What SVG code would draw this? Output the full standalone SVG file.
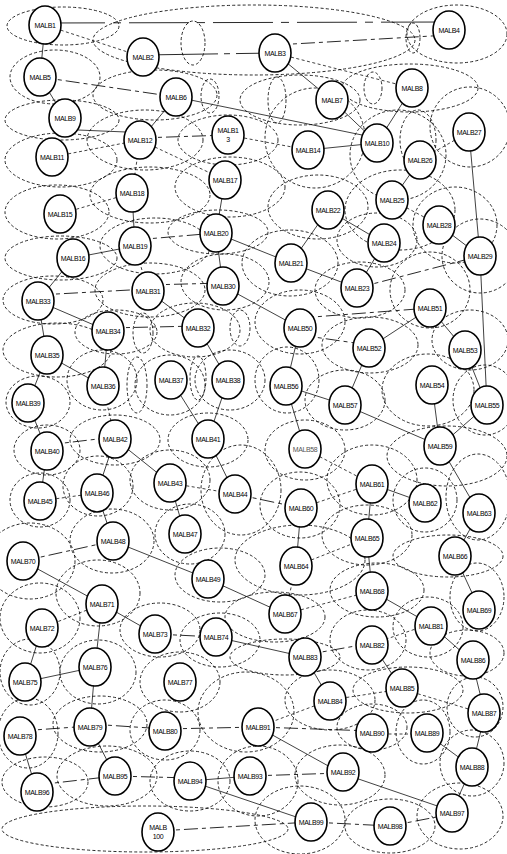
<svg xmlns="http://www.w3.org/2000/svg" width="507" height="854" viewBox="0 0 507 854">
<style>
.r{fill:none;stroke:#111;stroke-width:0.9;stroke-dasharray:3 2.2}
.c{stroke:#111;stroke-width:0.8;fill:none}
.d{stroke:#111;stroke-width:0.8;fill:none;stroke-dasharray:3 2.5}
.l{stroke:#111;stroke-width:0.9;fill:none;stroke-dasharray:14 4 4 4}
.n ellipse{fill:#fff;stroke:#000;stroke-width:1.6}
.n text{font-family:"Liberation Sans",Arial,sans-serif;font-size:7px;letter-spacing:-0.4px;text-anchor:middle;fill:#000}
</style>
<rect width="507" height="854" fill="#fff"/>
<g id="ranges">
<ellipse class="r" cx="63" cy="26" rx="56" ry="19"/>
<ellipse class="r" cx="457" cy="34" rx="50" ry="29"/>
<ellipse class="r" cx="413" cy="38" rx="7" ry="15"/>
<ellipse class="r" cx="193" cy="43" rx="12" ry="22"/>
<ellipse class="r" cx="254" cy="40" rx="161" ry="35"/>
<ellipse class="r" cx="55" cy="77" rx="45" ry="27"/>
<ellipse class="r" cx="155" cy="95" rx="62" ry="25"/>
<ellipse class="r" cx="210" cy="96" rx="9" ry="17"/>
<ellipse class="r" cx="277" cy="100" rx="9" ry="23"/>
<ellipse class="r" cx="300" cy="100" rx="60" ry="25"/>
<ellipse class="r" cx="410" cy="88" rx="68" ry="24"/>
<ellipse class="r" cx="373" cy="88" rx="9" ry="16"/>
<ellipse class="r" cx="62" cy="120" rx="57" ry="20"/>
<ellipse class="r" cx="61" cy="160" rx="56" ry="27"/>
<ellipse class="r" cx="145" cy="140" rx="58" ry="30"/>
<ellipse class="r" cx="228" cy="140" rx="50" ry="25"/>
<ellipse class="r" cx="315" cy="138" rx="50" ry="50"/>
<ellipse class="r" cx="398" cy="155" rx="48" ry="45"/>
<ellipse class="r" cx="470" cy="127" rx="40" ry="40"/>
<ellipse class="r" cx="418" cy="140" rx="18" ry="30"/>
<ellipse class="r" cx="57" cy="212" rx="52" ry="27"/>
<ellipse class="r" cx="150" cy="195" rx="60" ry="28"/>
<ellipse class="r" cx="230" cy="187" rx="55" ry="30"/>
<ellipse class="r" cx="318" cy="207" rx="50" ry="32"/>
<ellipse class="r" cx="400" cy="210" rx="55" ry="40"/>
<ellipse class="r" cx="455" cy="225" rx="42" ry="38"/>
<ellipse class="r" cx="155" cy="246" rx="55" ry="28"/>
<ellipse class="r" cx="61" cy="258" rx="56" ry="22"/>
<ellipse class="r" cx="218" cy="232" rx="50" ry="22"/>
<ellipse class="r" cx="377" cy="240" rx="40" ry="27"/>
<ellipse class="r" cx="290" cy="263" rx="48" ry="33"/>
<ellipse class="r" cx="480" cy="256" rx="38" ry="37"/>
<ellipse class="r" cx="53" cy="300" rx="50" ry="24"/>
<ellipse class="r" cx="150" cy="290" rx="55" ry="27"/>
<ellipse class="r" cx="225" cy="282" rx="44" ry="28"/>
<ellipse class="r" cx="360" cy="290" rx="45" ry="28"/>
<ellipse class="r" cx="430" cy="290" rx="40" ry="38"/>
<ellipse class="r" cx="116" cy="332" rx="41" ry="22"/>
<ellipse class="r" cx="143" cy="333" rx="10" ry="20"/>
<ellipse class="r" cx="195" cy="330" rx="45" ry="27"/>
<ellipse class="r" cx="240" cy="328" rx="10" ry="18"/>
<ellipse class="r" cx="300" cy="322" rx="45" ry="32"/>
<ellipse class="r" cx="370" cy="345" rx="48" ry="28"/>
<ellipse class="r" cx="470" cy="340" rx="38" ry="30"/>
<ellipse class="r" cx="57" cy="350" rx="54" ry="27"/>
<ellipse class="r" cx="102" cy="380" rx="35" ry="30"/>
<ellipse class="r" cx="137" cy="385" rx="10" ry="28"/>
<ellipse class="r" cx="38" cy="402" rx="32" ry="26"/>
<ellipse class="r" cx="170" cy="385" rx="35" ry="30"/>
<ellipse class="r" cx="198" cy="378" rx="8" ry="22"/>
<ellipse class="r" cx="230" cy="380" rx="35" ry="30"/>
<ellipse class="r" cx="287" cy="380" rx="32" ry="33"/>
<ellipse class="r" cx="345" cy="400" rx="40" ry="30"/>
<ellipse class="r" cx="428" cy="390" rx="46" ry="36"/>
<ellipse class="r" cx="485" cy="400" rx="32" ry="35"/>
<ellipse class="r" cx="47" cy="450" rx="33" ry="25"/>
<ellipse class="r" cx="115" cy="440" rx="45" ry="25"/>
<ellipse class="r" cx="208" cy="440" rx="40" ry="27"/>
<ellipse class="r" cx="305" cy="450" rx="40" ry="30"/>
<ellipse class="r" cx="447" cy="456" rx="60" ry="30"/>
<ellipse class="r" cx="40" cy="500" rx="30" ry="27"/>
<ellipse class="r" cx="98" cy="486" rx="35" ry="30"/>
<ellipse class="r" cx="170" cy="480" rx="40" ry="30"/>
<ellipse class="r" cx="241" cy="490" rx="40" ry="45"/>
<ellipse class="r" cx="300" cy="505" rx="40" ry="33"/>
<ellipse class="r" cx="372" cy="480" rx="45" ry="35"/>
<ellipse class="r" cx="425" cy="500" rx="32" ry="32"/>
<ellipse class="r" cx="478" cy="497" rx="32" ry="43"/>
<ellipse class="r" cx="112" cy="541" rx="42" ry="32"/>
<ellipse class="r" cx="30" cy="561" rx="45" ry="38"/>
<ellipse class="r" cx="190" cy="534" rx="35" ry="30"/>
<ellipse class="r" cx="300" cy="560" rx="65" ry="35"/>
<ellipse class="r" cx="367" cy="535" rx="45" ry="30"/>
<ellipse class="r" cx="448" cy="556" rx="55" ry="21"/>
<ellipse class="r" cx="220" cy="575" rx="45" ry="27"/>
<ellipse class="r" cx="377" cy="590" rx="47" ry="27"/>
<ellipse class="r" cx="477" cy="597" rx="27" ry="34"/>
<ellipse class="r" cx="98" cy="593" rx="42" ry="33"/>
<ellipse class="r" cx="40" cy="618" rx="40" ry="35"/>
<ellipse class="r" cx="275" cy="617" rx="50" ry="25"/>
<ellipse class="r" cx="160" cy="630" rx="40" ry="27"/>
<ellipse class="r" cx="220" cy="640" rx="40" ry="27"/>
<ellipse class="r" cx="428" cy="627" rx="35" ry="30"/>
<ellipse class="r" cx="368" cy="640" rx="38" ry="30"/>
<ellipse class="r" cx="285" cy="657" rx="55" ry="18"/>
<ellipse class="r" cx="467" cy="653" rx="37" ry="23"/>
<ellipse class="r" cx="30" cy="672" rx="30" ry="33"/>
<ellipse class="r" cx="98" cy="672" rx="38" ry="32"/>
<ellipse class="r" cx="180" cy="682" rx="40" ry="30"/>
<ellipse class="r" cx="408" cy="690" rx="55" ry="23"/>
<ellipse class="r" cx="330" cy="700" rx="45" ry="30"/>
<ellipse class="r" cx="475" cy="707" rx="28" ry="30"/>
<ellipse class="r" cx="28" cy="733" rx="30" ry="35"/>
<ellipse class="r" cx="100" cy="724" rx="47" ry="28"/>
<ellipse class="r" cx="165" cy="730" rx="35" ry="30"/>
<ellipse class="r" cx="246" cy="712" rx="48" ry="40"/>
<ellipse class="r" cx="372" cy="727" rx="35" ry="23"/>
<ellipse class="r" cx="423" cy="732" rx="27" ry="32"/>
<ellipse class="r" cx="472" cy="763" rx="32" ry="33"/>
<ellipse class="r" cx="45" cy="782" rx="43" ry="25"/>
<ellipse class="r" cx="107" cy="776" rx="50" ry="30"/>
<ellipse class="r" cx="190" cy="781" rx="40" ry="30"/>
<ellipse class="r" cx="258" cy="781" rx="40" ry="35"/>
<ellipse class="r" cx="340" cy="775" rx="45" ry="30"/>
<ellipse class="r" cx="145" cy="829" rx="143" ry="23"/>
<ellipse class="r" cx="300" cy="820" rx="45" ry="34"/>
<ellipse class="r" cx="390" cy="826" rx="45" ry="27"/>
<ellipse class="r" cx="460" cy="816" rx="43" ry="33"/>
</g>
<g id="connectors">
<path class="c" d="M45 25L40 77M40 77L65 118M78 130L126 132M176 97L140 140M176 97L362 135M275 53L332 100M332 100L377 143M412 88L377 143M308 150L377 143M420 160L392 200M469 132L480 256M225 180L216 233M132 193L135 246M73 258L135 246M73 258L38 301M38 301L108 331M38 301L47 355M47 355L28 403M47 355L103 386M108 331L103 386M216 233L223 286M216 233L291 263M223 286L300 328M148 291L198 328M198 328L228 380M300 328L286 386M291 263L328 210M291 263L357 288M328 210L384 243M384 243L357 288M439 225L480 256M480 256L487 405M430 308L369 348M430 308L465 350M369 348L345 405M465 350L487 405M432 385L440 446M286 386L345 405M286 386L305 449M171 380L208 439M228 380L208 439M28 403L47 451M47 451L40 501M115 439L97 493M115 439L170 483M97 493L113 541M113 541L208 579M23 561L102 604M102 604L155 634M102 604L95 667M208 439L235 494M170 483L185 534M301 508L296 566M345 405L440 446M440 446L479 513M372 484L425 503M372 484L367 538M487 405L440 446M479 513L455 556M367 538L372 591M455 556L479 608M372 591L430 624M208 579L285 614M216 637L305 657M430 624L472 661M372 644L402 689M472 661L485 714M25 682L95 667M42 628L25 682M95 667L90 727M90 727L115 776M20 736L37 792M190 781L250 776M190 781L311 822M258 727L341 773M427 734L472 767M485 714L472 767M341 773L452 811M472 767L452 811M305 657L330 700"/>
<path class="d" d="M45 25L143 57M228 135L308 150M52 157L140 140M140 140L132 193M140 140L225 180M132 193L60 214M469 132L420 160M275 53L412 88M392 200L439 225M135 246L148 291M103 386L115 439M40 501L97 493M102 604L42 628M170 483L235 494M305 449L372 484M301 508L372 484M296 566L367 538M296 566L285 614M285 614L372 591M330 700L402 689M402 689L485 714M330 700L258 727M372 734L427 734M430 624L372 644"/>
<path class="l" style="stroke-dasharray:60 8 8 8" d="M45 23L449 22"/>
<path class="l" style="stroke-dasharray:75 6 6 6" d="M143 55L275 53"/>
<path class="l" d="M275 45L449 35M40 77L176 97M140 138L228 135M38 295L148 289M108 328L198 326M135 240L216 233M148 285L223 283M300 318L430 308M300 335L369 345M357 288L480 256M47 445L115 437M113 541L23 561M235 494L301 508M155 634L216 637M165 729L258 727M90 724L165 729M20 731L90 726M37 785L115 776M115 776L190 778M250 776L341 773M258 727L372 731M158 831L311 822M311 822L390 826M390 826L452 814M305 655L372 643"/>
</g>
<g id="MALB1" class="n"><ellipse cx="45" cy="25" rx="16" ry="19"/><text x="45" y="27.5">MALB1</text></g>
<g id="MALB2" class="n"><ellipse cx="143" cy="57" rx="16" ry="19"/><text x="143" y="59.5">MALB2</text></g>
<g id="MALB3" class="n"><ellipse cx="275" cy="53" rx="16" ry="19"/><text x="275" y="55.5">MALB3</text></g>
<g id="MALB4" class="n"><ellipse cx="449" cy="30" rx="16" ry="19"/><text x="449" y="32.5">MALB4</text></g>
<g id="MALB5" class="n"><ellipse cx="40" cy="77" rx="16" ry="19"/><text x="40" y="79.5">MALB5</text></g>
<g id="MALB6" class="n"><ellipse cx="176" cy="97" rx="16" ry="19"/><text x="176" y="99.5">MALB6</text></g>
<g id="MALB7" class="n"><ellipse cx="332" cy="100" rx="16" ry="19"/><text x="332" y="102.5">MALB7</text></g>
<g id="MALB8" class="n"><ellipse cx="412" cy="88" rx="16" ry="19"/><text x="412" y="90.5">MALB8</text></g>
<g id="MALB9" class="n"><ellipse cx="65" cy="118" rx="16" ry="19"/><text x="65" y="120.5">MALB9</text></g>
<g id="MALB10" class="n"><ellipse cx="377" cy="143" rx="16" ry="19"/><text x="377" y="145.5">MALB10</text></g>
<g id="MALB11" class="n"><ellipse cx="52" cy="157" rx="16" ry="19"/><text x="52" y="159.5">MALB11</text></g>
<g id="MALB12" class="n"><ellipse cx="140" cy="140" rx="16" ry="19"/><text x="140" y="142.5">MALB12</text></g>
<g id="MALB13" class="n"><ellipse cx="228" cy="135" rx="16" ry="19"/><text x="228" y="133">MALB1</text><text x="228" y="142">3</text></g>
<g id="MALB14" class="n"><ellipse cx="308" cy="150" rx="16" ry="19"/><text x="308" y="152.5">MALB14</text></g>
<g id="MALB15" class="n"><ellipse cx="60" cy="214" rx="16" ry="19"/><text x="60" y="216.5">MALB15</text></g>
<g id="MALB16" class="n"><ellipse cx="73" cy="258" rx="16" ry="19"/><text x="73" y="260.5">MALB16</text></g>
<g id="MALB17" class="n"><ellipse cx="225" cy="180" rx="16" ry="19"/><text x="225" y="182.5">MALB17</text></g>
<g id="MALB18" class="n"><ellipse cx="132" cy="193" rx="16" ry="19"/><text x="132" y="195.5">MALB18</text></g>
<g id="MALB19" class="n"><ellipse cx="135" cy="246" rx="16" ry="19"/><text x="135" y="248.5">MALB19</text></g>
<g id="MALB20" class="n"><ellipse cx="216" cy="233" rx="16" ry="19"/><text x="216" y="235.5">MALB20</text></g>
<g id="MALB21" class="n"><ellipse cx="291" cy="263" rx="16" ry="19"/><text x="291" y="265.5">MALB21</text></g>
<g id="MALB22" class="n"><ellipse cx="328" cy="210" rx="16" ry="19"/><text x="328" y="212.5">MALB22</text></g>
<g id="MALB23" class="n"><ellipse cx="357" cy="288" rx="16" ry="19"/><text x="357" y="290.5">MALB23</text></g>
<g id="MALB24" class="n"><ellipse cx="384" cy="243" rx="16" ry="19"/><text x="384" y="245.5">MALB24</text></g>
<g id="MALB25" class="n"><ellipse cx="392" cy="200" rx="16" ry="19"/><text x="392" y="202.5">MALB25</text></g>
<g id="MALB26" class="n"><ellipse cx="420" cy="160" rx="16" ry="19"/><text x="420" y="162.5">MALB26</text></g>
<g id="MALB27" class="n"><ellipse cx="469" cy="132" rx="16" ry="19"/><text x="469" y="134.5">MALB27</text></g>
<g id="MALB28" class="n"><ellipse cx="439" cy="225" rx="16" ry="19"/><text x="439" y="227.5">MALB28</text></g>
<g id="MALB29" class="n"><ellipse cx="480" cy="256" rx="16" ry="19"/><text x="480" y="258.5">MALB29</text></g>
<g id="MALB30" class="n"><ellipse cx="223" cy="286" rx="16" ry="19"/><text x="223" y="288.5">MALB30</text></g>
<g id="MALB31" class="n"><ellipse cx="148" cy="291" rx="16" ry="19"/><text x="148" y="293.5">MALB31</text></g>
<g id="MALB32" class="n"><ellipse cx="198" cy="328" rx="16" ry="19"/><text x="198" y="330.5">MALB32</text></g>
<g id="MALB33" class="n"><ellipse cx="38" cy="301" rx="16" ry="19"/><text x="38" y="303.5">MALB33</text></g>
<g id="MALB34" class="n"><ellipse cx="108" cy="331" rx="16" ry="19"/><text x="108" y="333.5">MALB34</text></g>
<g id="MALB35" class="n"><ellipse cx="47" cy="355" rx="16" ry="19"/><text x="47" y="357.5">MALB35</text></g>
<g id="MALB36" class="n"><ellipse cx="103" cy="386" rx="16" ry="19"/><text x="103" y="388.5">MALB36</text></g>
<g id="MALB37" class="n"><ellipse cx="171" cy="380" rx="16" ry="19"/><text x="171" y="382.5">MALB37</text></g>
<g id="MALB38" class="n"><ellipse cx="228" cy="380" rx="16" ry="19"/><text x="228" y="382.5">MALB38</text></g>
<g id="MALB39" class="n"><ellipse cx="28" cy="403" rx="16" ry="19"/><text x="28" y="405.5">MALB39</text></g>
<g id="MALB40" class="n"><ellipse cx="47" cy="451" rx="16" ry="19"/><text x="47" y="453.5">MALB40</text></g>
<g id="MALB41" class="n"><ellipse cx="208" cy="439" rx="16" ry="19"/><text x="208" y="441.5">MALB41</text></g>
<g id="MALB42" class="n"><ellipse cx="115" cy="439" rx="16" ry="19"/><text x="115" y="441.5">MALB42</text></g>
<g id="MALB43" class="n"><ellipse cx="170" cy="483" rx="16" ry="19"/><text x="170" y="485.5">MALB43</text></g>
<g id="MALB44" class="n"><ellipse cx="235" cy="494" rx="16" ry="19"/><text x="235" y="496.5">MALB44</text></g>
<g id="MALB45" class="n"><ellipse cx="40" cy="501" rx="16" ry="19"/><text x="40" y="503.5">MALB45</text></g>
<g id="MALB46" class="n"><ellipse cx="97" cy="493" rx="16" ry="19"/><text x="97" y="495.5">MALB46</text></g>
<g id="MALB47" class="n"><ellipse cx="185" cy="534" rx="16" ry="19"/><text x="185" y="536.5">MALB47</text></g>
<g id="MALB48" class="n"><ellipse cx="113" cy="541" rx="16" ry="19"/><text x="113" y="543.5">MALB48</text></g>
<g id="MALB49" class="n"><ellipse cx="208" cy="579" rx="16" ry="19"/><text x="208" y="581.5">MALB49</text></g>
<g id="MALB50" class="n"><ellipse cx="300" cy="328" rx="16" ry="19"/><text x="300" y="330.5">MALB50</text></g>
<g id="MALB51" class="n"><ellipse cx="430" cy="308" rx="16" ry="19"/><text x="430" y="310.5">MALB51</text></g>
<g id="MALB52" class="n"><ellipse cx="369" cy="348" rx="16" ry="19"/><text x="369" y="350.5">MALB52</text></g>
<g id="MALB53" class="n"><ellipse cx="465" cy="350" rx="16" ry="19"/><text x="465" y="352.5">MALB53</text></g>
<g id="MALB54" class="n"><ellipse cx="432" cy="385" rx="16" ry="19"/><text x="432" y="387.5">MALB54</text></g>
<g id="MALB55" class="n"><ellipse cx="487" cy="405" rx="16" ry="19"/><text x="487" y="407.5">MALB55</text></g>
<g id="MALB56" class="n"><ellipse cx="286" cy="386" rx="16" ry="19"/><text x="286" y="388.5">MALB56</text></g>
<g id="MALB57" class="n"><ellipse cx="345" cy="405" rx="16" ry="19"/><text x="345" y="407.5">MALB57</text></g>
<g id="MALB58" class="n"><ellipse cx="305" cy="449" rx="16" ry="19"/><text x="305" y="451.5" style="fill:#555">MALB58</text></g>
<g id="MALB59" class="n"><ellipse cx="440" cy="446" rx="16" ry="19"/><text x="440" y="448.5">MALB59</text></g>
<g id="MALB60" class="n"><ellipse cx="301" cy="508" rx="16" ry="19"/><text x="301" y="510.5">MALB60</text></g>
<g id="MALB61" class="n"><ellipse cx="372" cy="484" rx="16" ry="19"/><text x="372" y="486.5">MALB61</text></g>
<g id="MALB62" class="n"><ellipse cx="425" cy="503" rx="16" ry="19"/><text x="425" y="505.5">MALB62</text></g>
<g id="MALB63" class="n"><ellipse cx="479" cy="513" rx="16" ry="19"/><text x="479" y="515.5">MALB63</text></g>
<g id="MALB64" class="n"><ellipse cx="296" cy="566" rx="16" ry="19"/><text x="296" y="568.5">MALB64</text></g>
<g id="MALB65" class="n"><ellipse cx="367" cy="538" rx="16" ry="19"/><text x="367" y="540.5">MALB65</text></g>
<g id="MALB66" class="n"><ellipse cx="455" cy="556" rx="16" ry="19"/><text x="455" y="558.5">MALB66</text></g>
<g id="MALB67" class="n"><ellipse cx="285" cy="614" rx="16" ry="19"/><text x="285" y="616.5">MALB67</text></g>
<g id="MALB68" class="n"><ellipse cx="372" cy="591" rx="16" ry="19"/><text x="372" y="593.5">MALB68</text></g>
<g id="MALB69" class="n"><ellipse cx="479" cy="610" rx="16" ry="19"/><text x="479" y="612.5">MALB69</text></g>
<g id="MALB70" class="n"><ellipse cx="23" cy="561" rx="16" ry="19"/><text x="23" y="563.5">MALB70</text></g>
<g id="MALB71" class="n"><ellipse cx="102" cy="604" rx="16" ry="19"/><text x="102" y="606.5">MALB71</text></g>
<g id="MALB72" class="n"><ellipse cx="42" cy="628" rx="16" ry="19"/><text x="42" y="630.5">MALB72</text></g>
<g id="MALB73" class="n"><ellipse cx="155" cy="634" rx="16" ry="19"/><text x="155" y="636.5">MALB73</text></g>
<g id="MALB74" class="n"><ellipse cx="216" cy="637" rx="16" ry="19"/><text x="216" y="639.5">MALB74</text></g>
<g id="MALB75" class="n"><ellipse cx="25" cy="682" rx="16" ry="19"/><text x="25" y="684.5">MALB75</text></g>
<g id="MALB76" class="n"><ellipse cx="95" cy="667" rx="16" ry="19"/><text x="95" y="669.5">MALB76</text></g>
<g id="MALB77" class="n"><ellipse cx="180" cy="682" rx="16" ry="19"/><text x="180" y="684.5">MALB77</text></g>
<g id="MALB78" class="n"><ellipse cx="20" cy="736" rx="16" ry="19"/><text x="20" y="738.5">MALB78</text></g>
<g id="MALB79" class="n"><ellipse cx="90" cy="727" rx="16" ry="19"/><text x="90" y="729.5">MALB79</text></g>
<g id="MALB80" class="n"><ellipse cx="165" cy="731" rx="16" ry="19"/><text x="165" y="733.5">MALB80</text></g>
<g id="MALB81" class="n"><ellipse cx="431" cy="626" rx="16" ry="19"/><text x="431" y="628.5">MALB81</text></g>
<g id="MALB82" class="n"><ellipse cx="372" cy="645" rx="16" ry="19"/><text x="372" y="647.5">MALB82</text></g>
<g id="MALB83" class="n"><ellipse cx="305" cy="657" rx="16" ry="19"/><text x="305" y="659.5">MALB83</text></g>
<g id="MALB84" class="n"><ellipse cx="330" cy="701" rx="16" ry="19"/><text x="330" y="703.5">MALB84</text></g>
<g id="MALB85" class="n"><ellipse cx="402" cy="688" rx="16" ry="19"/><text x="402" y="690.5">MALB85</text></g>
<g id="MALB86" class="n"><ellipse cx="473" cy="660" rx="16" ry="19"/><text x="473" y="662.5">MALB86</text></g>
<g id="MALB87" class="n"><ellipse cx="484" cy="713" rx="16" ry="19"/><text x="484" y="715.5">MALB87</text></g>
<g id="MALB88" class="n"><ellipse cx="472" cy="767" rx="16" ry="19"/><text x="472" y="769.5">MALB88</text></g>
<g id="MALB89" class="n"><ellipse cx="427" cy="733" rx="16" ry="19"/><text x="427" y="735.5">MALB89</text></g>
<g id="MALB90" class="n"><ellipse cx="372" cy="733" rx="16" ry="19"/><text x="372" y="735.5">MALB90</text></g>
<g id="MALB91" class="n"><ellipse cx="258" cy="727" rx="16" ry="19"/><text x="258" y="729.5">MALB91</text></g>
<g id="MALB92" class="n"><ellipse cx="343" cy="772" rx="16" ry="19"/><text x="343" y="774.5">MALB92</text></g>
<g id="MALB93" class="n"><ellipse cx="250" cy="776" rx="16" ry="19"/><text x="250" y="778.5">MALB93</text></g>
<g id="MALB94" class="n"><ellipse cx="190" cy="781" rx="16" ry="19"/><text x="190" y="783.5">MALB94</text></g>
<g id="MALB95" class="n"><ellipse cx="115" cy="776" rx="16" ry="19"/><text x="115" y="778.5">MALB95</text></g>
<g id="MALB96" class="n"><ellipse cx="37" cy="792" rx="16" ry="19"/><text x="37" y="794.5">MALB96</text></g>
<g id="MALB97" class="n"><ellipse cx="452" cy="813" rx="16" ry="19"/><text x="452" y="815.5">MALB97</text></g>
<g id="MALB98" class="n"><ellipse cx="390" cy="826" rx="16" ry="19"/><text x="390" y="828.5">MALB98</text></g>
<g id="MALB99" class="n"><ellipse cx="311" cy="822" rx="16" ry="19"/><text x="311" y="824.5">MALB99</text></g>
<g id="MALB100" class="n"><ellipse cx="158" cy="832" rx="16" ry="19"/><text x="158" y="830">MALB</text><text x="158" y="839">100</text></g>
</svg>
